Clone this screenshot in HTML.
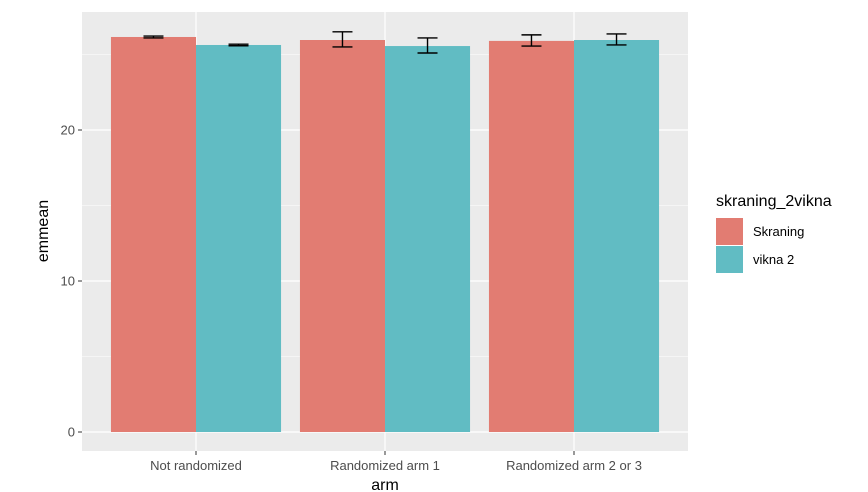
<!DOCTYPE html>
<html><head><meta charset="utf-8"><style>body{margin:0;background:#fff}svg{display:block;font-family:"Liberation Sans",sans-serif}</style></head>
<body>
<svg id="c" width="868" height="492" viewBox="0 0 868 492"></svg>
<script>
const categories=["Not randomized","Randomized arm 1","Randomized arm 2 or 3"];
const groups=["Skraning","vikna 2"];
const skraningValues=[26.16,25.96,25.9];
const vikna2Values=[25.63,25.56,25.96];
const skraningLower=[26.1,25.5,25.56];
const skraningUpper=[26.22,26.5,26.3];
const vikna2Lower=[25.58,25.1,25.63];
const vikna2Upper=[25.68,26.1,26.36];
const yTicks=[0,10,20];
const colors=["#E27C72","#61BCC3"];
const svg=document.getElementById('c');const NS="http://www.w3.org/2000/svg";
function mk(t,a,p){const e=document.createElementNS(NS,t);for(const k in a)e.setAttribute(k,a[k]);(p||svg).appendChild(e);return e;}
const L=82,R=688,T=12,B=451;
const y=v=>432-v*15.1;
const step=189;
const xc=i=>196+step*i;
const bw=step*0.9/2;
const bg=mk('rect',{x:L,y:T,width:R-L,height:B-T,fill:'#EBEBEB'});


[5,15,25].forEach(v=>{const g=mk('line',{x1:L,x2:R,y1:y(v),y2:y(v),stroke:'#fff','stroke-width':0.6});

});
yTicks.forEach(v=>{const g=mk('line',{x1:L,x2:R,y1:y(v),y2:y(v),stroke:'#fff','stroke-width':1.2});


mk('line',{x1:78,x2:82,y1:y(v),y2:y(v),stroke:'#333','stroke-width':1});
const t=mk('text',{x:75,y:y(v)+4.5,'text-anchor':'end','font-size':13,fill:'#4D4D4D'});t.textContent=v;

});
categories.forEach((c,i)=>{const g=mk('line',{x1:xc(i),x2:xc(i),y1:T,y2:B,stroke:'#fff','stroke-width':1.2});


mk('line',{x1:xc(i),x2:xc(i),y1:B,y2:B+4,stroke:'#333'});
const t=mk('text',{x:xc(i),y:470,'text-anchor':'middle','font-size':13,fill:'#4D4D4D'});t.textContent=c;

});
const series=[[skraningValues,skraningLower,skraningUpper],[vikna2Values,vikna2Lower,vikna2Upper]];
series.forEach((s,j)=>{s[0].forEach((v,i)=>{const x0=xc(i)-bw+j*bw;
const r=mk('rect',{x:x0,y:y(v),width:bw,height:y(0)-y(v),fill:colors[j]});


const cx=x0+bw/2,lo=y(s[1][i]),hi=y(s[2][i]);
const eb=mk('path',{d:`M${cx-10},${hi}H${cx+10}M${cx},${hi}V${lo}M${cx-10},${lo}H${cx+10}`,stroke:'#000','stroke-width':1.4,fill:'none'});

});});
const xt=mk('text',{x:385,y:490,'text-anchor':'middle','font-size':16,fill:'#000'});xt.textContent='arm';


const yt=mk('text',{x:48,y:231,'text-anchor':'middle','font-size':16,fill:'#000',transform:'rotate(-90 48 231)'});yt.textContent='emmean';


const lt=mk('text',{x:716,y:206,'font-size':16,fill:'#000'});lt.textContent='skraning_2vikna';


groups.forEach((g,j)=>{const k=mk('rect',{x:716,y:218+j*28,width:27,height:27,fill:colors[j]});


const t=mk('text',{x:753,y:236+j*28,'font-size':13,fill:'#000'});t.textContent=g;

});
</script>
</body></html>
